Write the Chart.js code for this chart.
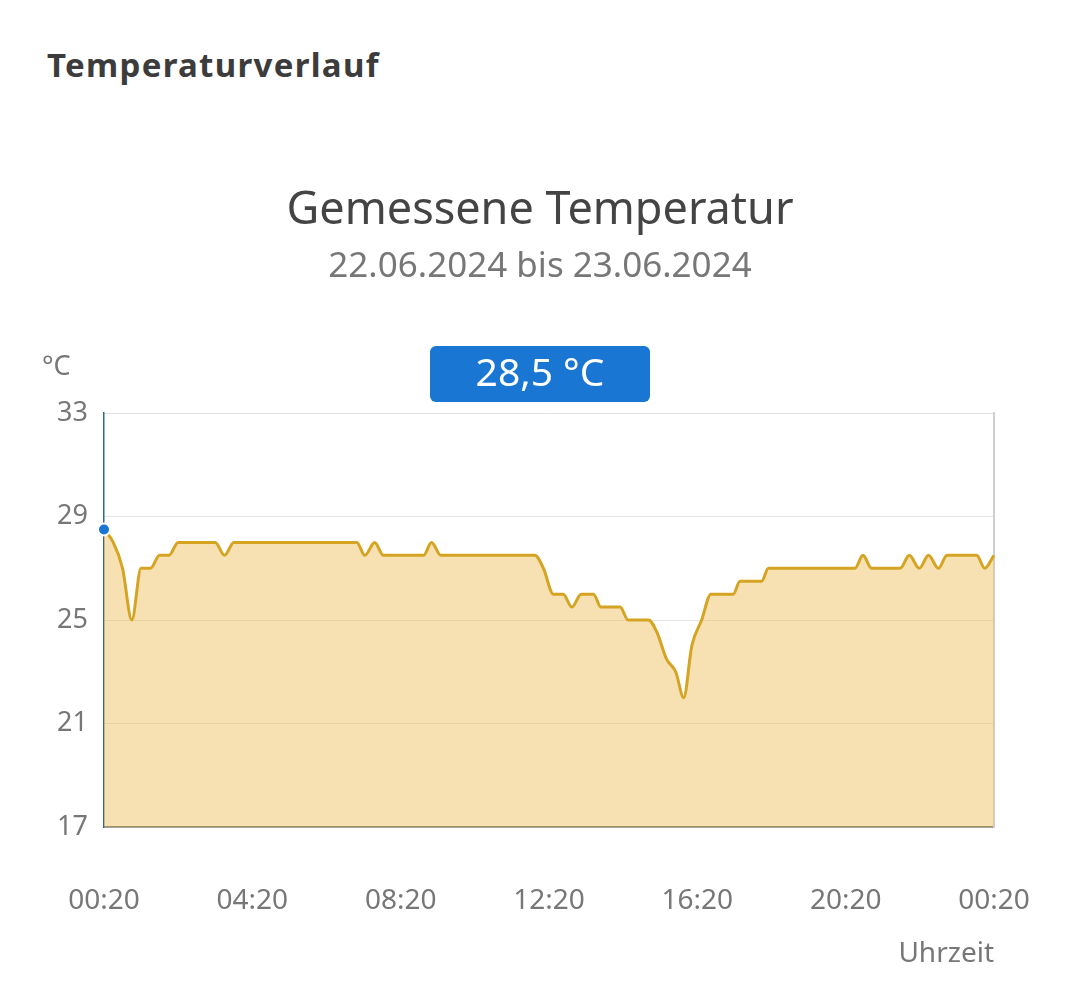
<!DOCTYPE html>
<html>
<head>
<meta charset="utf-8">
<script src="https://cdn.jsdelivr.net/npm/chart.js@4"></script>
<style>
    body {
        margin: 0;
        background: #fff;
        font-family: 'Noto Sans', sans-serif;
    }
    .header {
        position: absolute;
        left: 47px;
        top: 42px;
        font-size: 33px;
        font-weight: bold;
        letter-spacing: 1.3px;
        color: #3c3c3c;
    }
    .chart-box {
        position: absolute;
        left: 0;
        top: 0;
        width: 1080px;
        height: 991px;
    }
</style>
</head>
<body>
<div class="header">Temperaturverlauf</div>
<div class="chart-box"><canvas id="tempChart"></canvas></div>
<script>
// minutes after 00:20 on 22.06.2024
const minutes = [0, 15, 30, 45, 60, 75, 90, 105, 120, 180, 195, 210, 409, 422, 438, 452, 517, 530, 545, 697, 711, 727, 743, 757, 772, 792, 804, 835, 848, 881, 895, 910, 925, 938, 951, 967, 982, 1018, 1029, 1064, 1075, 1215, 1228, 1242, 1288, 1303, 1319, 1334, 1350, 1364, 1412, 1425, 1440]
const temps = [28.5, 28, 27, 25, 27, 27, 27.5, 27.5, 28, 28, 27.5, 28, 28, 27.5, 28, 27.5, 27.5, 28, 27.5, 27.5, 27, 26, 26, 25.5, 26, 26, 25.5, 25.5, 25, 25, 24.5, 23.5, 23, 22, 24, 25, 26, 26, 26.5, 26.5, 27, 27, 27.5, 27, 27, 27.5, 27, 27.5, 27, 27.5, 27.5, 27, 27.5]
const tickLabels = ['00:20', '04:20', '08:20', '12:20', '16:20', '20:20', '00:20']
const yTicks = [17, 21, 25, 29, 33]

const points = minutes.map((m, i) => ({ x: m, y: temps[i] }))
const activeIndex = 0

const overlay = {
    id: 'overlay',
    afterDraw(chart) {
        const { ctx } = chart
        ctx.save()

        // unit label
        ctx.fillStyle = '#777'
        ctx.font = '27px "Noto Sans"'
        ctx.textAlign = 'left'
        ctx.textBaseline = 'middle'
        ctx.fillText('°C', 42, 367)

        // current value box
        const w = 220
        const h = 56
        const x = chart.width / 2 - w / 2
        const y = 346
        ctx.fillStyle = '#1976d2'
        ctx.beginPath()
        ctx.roundRect(x, y, w, h, 6)
        ctx.fill()
        ctx.fillStyle = '#fff'
        ctx.font = '39px "Noto Sans"'
        ctx.textAlign = 'center'
        ctx.fillText(temps[activeIndex].toString().replace('.', ',') + ' °C', chart.width / 2, y + h / 2 + 1)

        ctx.restore()
    },
}

new Chart(document.getElementById('tempChart').getContext('2d'), {
    type: 'line',
    data: {
        datasets: [
            {
                data: points,
                yAxisID: 'y',
                borderColor: '#d4a422',
                borderWidth: 3,
                backgroundColor: 'rgba(238, 190, 95, 0.48)',
                fill: 'origin',
                cubicInterpolationMode: 'monotone',
                clip: false,
                pointRadius: (c) => (c.dataIndex === activeIndex ? 6 : 0),
                pointBackgroundColor: '#1976d2',
                pointBorderColor: '#fff',
                pointBorderWidth: 2,
            },
        ],
    },
    options: {
        responsive: true,
        maintainAspectRatio: false,
        animation: false,
        events: [],
        layout: {
            padding: { left: 0, right: 0, top: 0, bottom: 20 },
        },
        plugins: {
            legend: { display: false },
            tooltip: { enabled: false },
            title: {
                display: true,
                text: 'Gemessene Temperatur',
                color: '#444',
                font: { family: 'Noto Sans', size: 45, weight: 'normal' },
                padding: { top: 184, bottom: 0 },
            },
            subtitle: {
                display: true,
                text: '22.06.2024 bis 23.06.2024',
                color: '#777',
                font: { family: 'Noto Sans', size: 35 },
                padding: { top: 8, bottom: 125 },
            },
        },
        scales: {
            x: {
                type: 'linear',
                min: 0,
                max: 1440,
                afterFit: (scale) => {
                    scale.height = 144
                },
                grid: { display: false },
                border: { color: '#666', width: 1.5 },
                ticks: {
                    stepSize: 240,
                    padding: 49,
                    maxRotation: 0,
                    autoSkip: false,
                    color: '#777',
                    font: { family: 'Noto Sans', size: 28 },
                    callback: (v) => tickLabels[v / 240],
                },
                title: {
                    display: true,
                    text: 'Uhrzeit',
                    align: 'end',
                    color: '#777',
                    font: { family: 'Noto Sans', size: 28 },
                    padding: { top: 0, bottom: 0 },
                },
            },
            y: {
                min: yTicks[0],
                max: yTicks[yTicks.length - 1],
                afterFit: (scale) => {
                    scale.width = 104
                },
                afterBuildTicks: (scale) => {
                    scale.ticks = yTicks.map((v) => ({ value: v }))
                },
                grid: { color: '#e2e2e2', drawTicks: false },
                border: { color: '#2f6b78', width: 1.5 },
                ticks: {
                    padding: 16,
                    color: '#777',
                    font: { family: 'Noto Sans', size: 27 },
                },
            },
            // empty right axis, only draws the right frame line
            yRight: {
                position: 'right',
                min: yTicks[0],
                max: yTicks[yTicks.length - 1],
                afterFit: (scale) => {
                    scale.width = 86
                },
                grid: { display: false },
                border: { color: '#cfcfcf', width: 2 },
                ticks: { display: false },
            },
        },
    },
    plugins: [overlay],
})
</script>
</body>
</html>
